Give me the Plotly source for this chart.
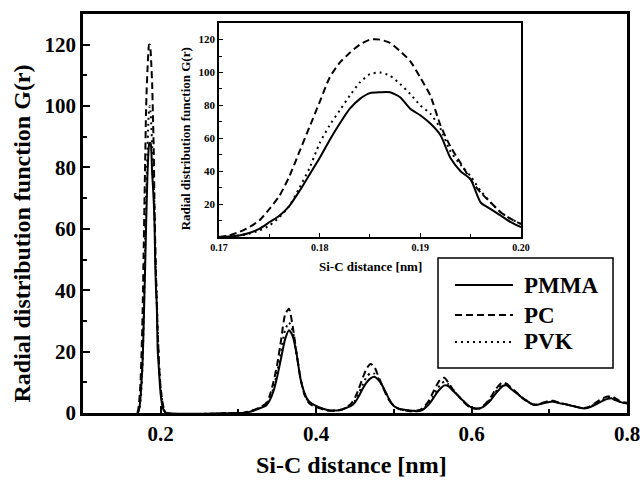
import plotly.graph_objects as go

# ---------------- data ----------------
# first peak, fine sampling (nm)
r_peak = [0.170, 0.171, 0.172, 0.173, 0.174, 0.175, 0.176, 0.177, 0.178, 0.179,
          0.180, 0.181, 0.182, 0.183, 0.184, 0.185, 0.186, 0.187, 0.188, 0.189,
          0.190, 0.191, 0.192, 0.193, 0.194, 0.195, 0.196, 0.197, 0.198, 0.199,
          0.200, 0.202, 0.204, 0.207]
pmma_peak = [0, 0.3, 1, 2.5, 5, 9, 13, 19, 28, 38,
             48, 59, 69, 78, 84, 87.5, 88, 88, 85, 78,
             74, 69, 62, 48, 40, 35, 21, 17, 13, 9,
             6, 2.5, 0.8, 0]
pc_peak = [0, 1, 3, 6, 10, 17, 25, 37, 52, 67,
           82, 97, 106, 112, 117, 120, 120, 118, 113, 107,
           97, 86, 68, 55, 45, 35, 27, 21, 15, 11,
           8, 4, 1.5, 0]
pvk_peak = [0, 0.3, 1, 2, 4, 7, 12, 19, 30, 42,
            57, 68, 77, 86, 94, 99, 100, 98, 93, 87,
            80, 75, 66, 52, 44, 37, 28, 21, 15, 11,
            8, 3.5, 1.2, 0]

# longer-range shells, 0.005 nm sampling from 0.300 to 0.800
r_tail = [round(0.300 + 0.005 * i, 3) for i in range(101)]
pmma_tail = [0, 0, 0.2, 0.4, 0.8, 1.3, 1.8, 2.3, 4, 7,
             12, 18, 24, 27, 25, 19, 11, 6.5, 4, 3,
             2.3, 1.8, 1.3, 1, 0.8, 0.8, 1, 1.3, 1.8, 2.3,
             3.5, 5.5, 8, 10, 11.3, 11.8, 10.8, 9, 6.5, 4,
             2.3, 1.6, 1.2, 1, 0.8, 0.7, 0.6, 0.8, 1.6, 2.8,
             4.5, 6.5, 8, 9, 8.8, 7.5, 6.3, 5, 3.8, 2.6,
             1.8, 1.5, 1.5, 2, 3, 4.3, 6, 7.5, 8.8, 9,
             8, 7, 6, 5, 4.2, 3.3, 2.7, 2.7, 3, 3.3,
             3.6, 3.7, 3.4, 3.1, 2.9, 2.6, 2.3, 2, 1.7, 1.5,
             1.7, 2.2, 2.8, 3.5, 4.1, 4.6, 4.8, 4.2, 3.7, 3.3,
             3.1]
pc_tail = [0, 0, 0.3, 0.6, 1, 1.5, 2.2, 3, 5.5, 10,
           16, 24, 32, 34, 28, 19, 11, 6, 3.5, 2.5,
           2, 1.5, 1.1, 0.8, 0.7, 0.7, 0.9, 1.3, 2, 3,
           5, 8, 11.5, 14.5, 16, 15, 12, 9, 6, 3.8,
           2.3, 1.5, 1, 0.8, 0.6, 0.6, 0.8, 1.2, 2.3, 4,
           6.5, 9, 11, 11.5, 10, 8, 6.5, 5, 3.5, 2.4,
           1.7, 1.4, 1.5, 2.3, 3.6, 5.3, 7.3, 9, 10, 9.6,
           8.5, 7.3, 6.2, 5, 4, 3.2, 2.7, 2.8, 3.2, 3.6,
           4, 4, 3.6, 3.2, 2.9, 2.6, 2.3, 2, 1.7, 1.6,
           1.9, 2.6, 3.4, 4.2, 4.9, 5.4, 5.5, 4.8, 4, 3.5,
           3.3]
pvk_tail = [0, 0, 0.2, 0.5, 0.9, 1.4, 2, 2.6, 4.5, 8,
            13.5, 20, 27, 29.5, 26.5, 19, 11, 6.3, 3.8, 2.8,
            2.2, 1.7, 1.2, 0.9, 0.8, 0.8, 1, 1.3, 1.9, 2.6,
            4, 6.5, 9.3, 11.8, 13, 12.8, 11.2, 9, 6.3, 3.9,
            2.3, 1.5, 1.1, 0.9, 0.7, 0.7, 0.7, 1, 1.9, 3.3,
            5.3, 7.5, 9.3, 10.2, 9.4, 7.8, 6.4, 5, 3.7, 2.5,
            1.8, 1.5, 1.5, 2.1, 3.3, 4.8, 6.6, 8.2, 9.3, 9.3,
            8.2, 7.1, 6.1, 5, 4.1, 3.3, 2.7, 2.8, 3.1, 3.5,
            3.8, 3.8, 3.5, 3.1, 2.9, 2.6, 2.3, 2, 1.7, 1.5,
            1.8, 2.4, 3.1, 3.8, 4.5, 5, 5.1, 4.5, 3.8, 3.4,
            3.2]

series_names = ["PMMA", "PC", "PVK"]
main_x_ticks = [0.2, 0.4, 0.6, 0.8]
main_y_ticks = [0, 20, 40, 60, 80, 100, 120]
inset_x_ticks = [0.17, 0.18, 0.19, 0.20]
inset_x_labels = ["0.17", "0.18", "0.19", "0.20"]
inset_y_ticks = [20, 40, 60, 80, 100, 120]

# ---------------- figure ----------------
FONT = "Liberation Serif"
dashes = {"PMMA": "solid", "PC": "7px,4px", "PVK": "2px,4px"}
peaks = {"PMMA": pmma_peak, "PC": pc_peak, "PVK": pvk_peak}
tails = {"PMMA": pmma_tail, "PC": pc_tail, "PVK": pvk_tail}

fig = go.Figure()
for name in series_names:
    fig.add_trace(go.Scatter(
        x=r_peak + r_tail, y=peaks[name] + tails[name], name=name,
        mode="lines", line=dict(color="black", width=2, dash=dashes[name],
                                shape="spline", smoothing=0.6),
        xaxis="x", yaxis="y", showlegend=False))
for name in series_names:
    fig.add_trace(go.Scatter(
        x=r_peak, y=peaks[name], name=name, mode="lines",
        line=dict(color="black", width=2, dash=dashes[name],
                  shape="spline", smoothing=0.6),
        xaxis="x2", yaxis="y2", showlegend=False))

axis_common = dict(showgrid=False, zeroline=False, showline=True, mirror=True,
                   linecolor="black", ticks="inside", tickcolor="black",
                   automargin=False, ticklabeloverflow="allow")

# legend drawn as a framed key (box, line samples, labels) in paper space
leg_box = dict(x0=0.6526, x1=0.9743, y0=0.1128, y1=0.3885)
leg_line_x = (0.6838, 0.7904)
leg_rows_y = [0.3208, 0.2456, 0.178]
leg_text_x = 0.807

shapes = [dict(type="rect", xref="paper", yref="paper", **leg_box,
               line=dict(color="black", width=1.5), fillcolor="white", layer="above")]
annotations = []
for name, yy in zip(series_names, leg_rows_y):
    shapes.append(dict(type="line", xref="paper", yref="paper",
                       x0=leg_line_x[0], x1=leg_line_x[1], y0=yy, y1=yy,
                       line=dict(color="black", width=2, dash=dashes[name]),
                       layer="above"))
    annotations.append(dict(text=name, xref="paper", yref="paper", x=leg_text_x, y=yy,
                            xanchor="left", yanchor="middle", showarrow=False,
                            font=dict(family=FONT, size=23, color="black", weight="bold")))

annotations += [
    dict(text="Radial distribution function G(r)", xref="paper", yref="paper",
         x=-0.112, y=0.45, textangle=-90, showarrow=False,
         xanchor="center", yanchor="middle",
         font=dict(family=FONT, size=24, color="black", weight="bold")),
    dict(text="Si-C distance [nm]", xref="paper", yref="paper",
         x=0.493, y=-0.130, showarrow=False, xanchor="center", yanchor="middle",
         font=dict(family=FONT, size=24, color="black", weight="bold")),
    dict(text="Radial distribution function G(r)", xref="paper", yref="paper",
         x=0.189, y=0.688, textangle=-90, showarrow=False,
         xanchor="center", yanchor="middle",
         font=dict(family=FONT, size=13, color="black", weight="bold")),
    dict(text="Si-C distance [nm]", xref="paper", yref="paper",
         x=0.5276, y=0.366, showarrow=False, xanchor="center", yanchor="middle",
         font=dict(family=FONT, size=13, color="black", weight="bold")),
]

fig.update_layout(
    width=640, height=481,
    margin=dict(l=83, r=13, t=14, b=68, autoexpand=False),
    paper_bgcolor="white", plot_bgcolor="white",
    showlegend=False,
    xaxis=dict(**axis_common, domain=[0, 1], range=[0.1, 0.8],
               tickvals=main_x_ticks, ticktext=[f"{v:.1f}" for v in main_x_ticks],
               linewidth=2.5, ticklen=7, tickwidth=2,
               minor=dict(ticks="inside", dtick=0.1, tick0=0.1, ticklen=4,
                          tickwidth=2, tickcolor="black"),
               tickfont=dict(family=FONT, size=21, color="black", weight="bold")),
    yaxis=dict(**axis_common, domain=[0, 1], range=[0, 130],
               tickvals=main_y_ticks, linewidth=2.5, ticklen=7, tickwidth=2,
               minor=dict(ticks="inside", dtick=10, tick0=0, ticklen=4,
                          tickwidth=2, tickcolor="black"),
               tickfont=dict(family=FONT, size=21, color="black", weight="bold")),
    xaxis2=dict(**axis_common, anchor="y2", domain=[0.25, 0.805], range=[0.17, 0.20],
                tickvals=inset_x_ticks, ticktext=inset_x_labels,
                linewidth=1.5, ticklen=4, tickwidth=1.2,
                minor=dict(ticks="inside", dtick=0.005, tick0=0.17, ticklen=3,
                           tickwidth=1.2, tickcolor="black"),
                tickfont=dict(family=FONT, size=10, color="black", weight="bold")),
    yaxis2=dict(**axis_common, anchor="x2", domain=[0.441, 0.977], range=[0, 130],
                tickvals=inset_y_ticks, linewidth=1.5, ticklen=4, tickwidth=1.2,
                minor=dict(ticks="inside", dtick=10, tick0=0, ticklen=3,
                           tickwidth=1.2, tickcolor="black"),
                tickfont=dict(family=FONT, size=11, color="black", weight="bold")),
    shapes=shapes,
    annotations=annotations,
)

fig.write_html("out.html")
